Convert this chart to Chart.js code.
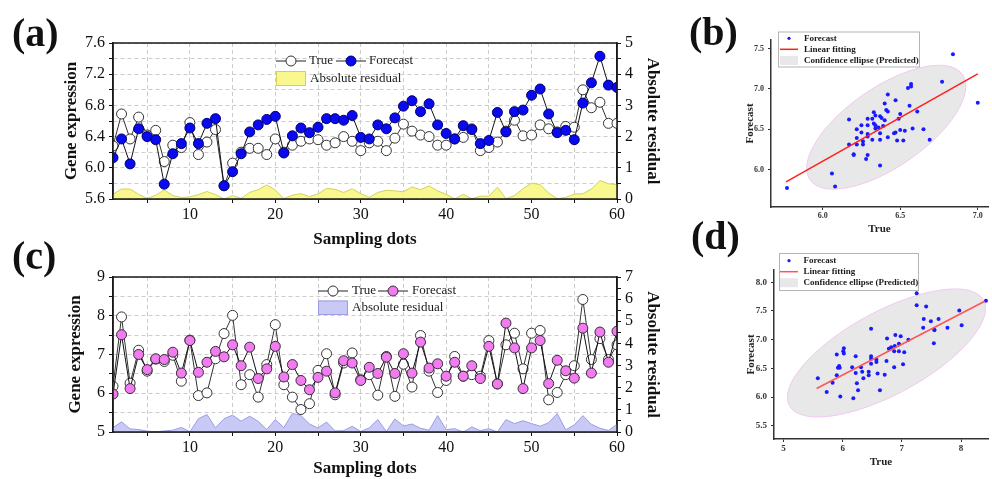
<!DOCTYPE html>
<html><head><meta charset="utf-8">
<script src="https://cdn.jsdelivr.net/npm/chart.js@4.4.1/dist/chart.umd.min.js"></script>
<style>
html,body{margin:0;padding:0;background:#fff;}
#wrap{position:relative;width:992px;height:479px;overflow:hidden;background:#fff;}
#wrap canvas{position:absolute;}
.lbl{position:absolute;font-family:"Liberation Serif","Times New Roman",serif;font-weight:bold;font-size:40px;line-height:40px;color:#111;white-space:nowrap;}
</style></head><body>
<div id="wrap">
<canvas id="ca" width="680" height="250" style="left:0;top:0;width:680px;height:250px"></canvas>
<canvas id="cc" width="680" height="239" style="left:0;top:240px;width:680px;height:239px"></canvas>
<canvas id="cb" width="312" height="240" style="left:680px;top:0;width:312px;height:240px"></canvas>
<canvas id="cd" width="312" height="239" style="left:680px;top:240px;width:312px;height:239px"></canvas>
<div class="lbl" style="left:12px;top:13px">(a)</div>
<div class="lbl" style="left:12px;top:236px">(c)</div>
<div class="lbl" style="left:689px;top:12px">(b)</div>
<div class="lbl" style="left:691px;top:216px">(d)</div>
</div>
<script>
// ---------- data ----------
const samples = Array.from({length: 60}, (_, i) => i + 1);

const trueA = [6.28,6.69,6.37,6.65,6.42,6.48,6.08,6.29,6.26,6.58,6.17,6.33,6.49,5.77,6.06,6.20,6.25,6.25,6.17,6.37,
               6.20,6.29,6.34,6.37,6.36,6.29,6.32,6.40,6.34,6.22,6.32,6.34,6.22,6.38,6.56,6.47,6.42,6.40,6.29,6.29,
               6.37,6.39,6.50,6.22,6.26,6.33,6.47,6.61,6.41,6.42,6.55,6.50,6.46,6.53,6.52,7.00,6.77,6.84,6.57,6.57];
const forecastA = [6.13,6.37,6.05,6.50,6.40,6.36,5.79,6.18,6.31,6.51,6.31,6.57,6.63,5.77,5.95,6.18,6.46,6.55,6.62,6.66,
                   6.19,6.41,6.51,6.45,6.52,6.63,6.63,6.61,6.67,6.39,6.37,6.55,6.50,6.64,6.79,6.86,6.72,6.82,6.55,6.44,
                   6.37,6.54,6.49,6.31,6.35,6.71,6.46,6.72,6.74,6.93,7.01,6.69,6.45,6.48,6.36,6.83,7.09,7.43,7.06,7.03];
const residualA = [0.15,0.32,0.32,0.15,0.02,0.12,0.29,0.11,0.05,0.07,0.14,0.24,0.14,0.00,0.11,0.02,0.21,0.30,0.45,0.29,
                   0.01,0.12,0.17,0.08,0.16,0.34,0.31,0.21,0.33,0.17,0.05,0.21,0.28,0.26,0.23,0.39,0.30,0.42,0.26,0.15,
                   0.00,0.15,0.01,0.09,0.09,0.38,0.01,0.11,0.33,0.51,0.46,0.19,0.01,0.05,0.16,0.17,0.32,0.59,0.49,0.46];

const trueC = [6.18,7.97,6.26,7.11,6.57,6.88,6.82,6.98,6.31,7.37,5.94,6.01,6.89,7.54,8.01,6.22,6.48,5.90,6.74,7.77,
               6.22,5.90,5.58,5.73,6.59,7.02,5.96,6.78,7.04,6.35,6.48,5.95,6.95,5.92,6.75,6.16,7.49,6.57,6.02,6.33,
               6.95,6.44,6.48,6.44,7.36,6.24,7.25,7.55,6.63,7.55,7.62,5.83,6.02,6.48,6.71,8.42,6.87,7.41,6.87,7.25];
const forecastC = [5.98,7.51,6.12,7.00,6.61,6.89,6.87,7.06,6.52,7.36,6.54,6.80,7.08,6.94,7.25,6.71,7.19,6.38,6.63,7.21,
                   6.42,6.74,6.33,6.09,6.41,6.57,6.01,6.84,6.78,6.33,6.67,6.51,6.93,6.51,7.02,6.52,7.32,6.65,6.76,6.44,
                   6.80,6.44,6.71,6.38,7.21,6.24,7.81,7.17,6.12,7.17,7.36,6.25,6.85,6.58,6.39,7.68,6.52,7.58,6.80,7.60];
const residualC = [0.20,0.46,0.14,0.11,0.04,0.01,0.05,0.08,0.21,0.01,0.60,0.79,0.19,0.60,0.76,0.49,0.71,0.48,0.11,0.56,
                   0.20,0.84,0.75,0.36,0.18,0.45,0.05,0.06,0.26,0.02,0.19,0.56,0.02,0.59,0.27,0.36,0.17,0.08,0.74,0.11,
                   0.15,0.00,0.23,0.06,0.15,0.00,0.56,0.38,0.51,0.38,0.26,0.42,0.83,0.10,0.32,0.74,0.35,0.17,0.07,0.35];

// tick labels
const xTickLabels = [10, 20, 30, 40, 50, 60];
const yTickLabelsA = [5.6, 6.0, 6.4, 6.8, 7.2, 7.6];
const y1TickLabelsA = [0, 1, 2, 3, 4, 5];
const yTickLabelsC = [5, 6, 7, 8, 9];
const y1TickLabelsC = [0, 1, 2, 3, 4, 5, 6, 7];
const xTickLabelsB = [6.0, 6.5, 7.0];
const yTickLabelsB = [6.0, 6.5, 7.0, 7.5];
const xTickLabelsD = [5, 6, 7, 8];
const yTickLabelsD = [5.5, 6.0, 6.5, 7.0, 7.5, 8.0];

// linear fitting end points (True, Forecast)
const fitXB = [5.764, 7.0];
const fitYB = [5.846, 7.186];
const fitXD = [5.56, 8.40];
const fitYD = [6.15, 7.67];

// confidence ellipses: centre, major-axis tip, minor-axis tip (True, Forecast)
const ellipseCentreB = [6.41, 6.525];
const ellipseMajorB = [6.902, 7.177];
const ellipseMinorB = [6.268, 6.937];
const ellipseCentreD = [6.74, 6.769];
const ellipseMajorD = [8.38, 7.687];
const ellipseMinorD = [6.416, 7.409];

// ---------- helpers ----------
const SERIF = '"Liberation Serif", "Times New Roman", serif';

function withMinor(labels, div) {
  const t = [];
  labels.forEach((v, i) => {
    t.push({value: v, lab: true});
    if (i < labels.length - 1) {
      for (let k = 1; k < div; k++) t.push({value: v + (labels[i + 1] - v) * k / div, lab: false});
    }
  });
  return t;
}

const framePlugin = {
  id: 'frame',
  afterDatasetsDraw(chart) {
    const a = chart.chartArea, ctx = chart.ctx;
    ctx.save();
    ctx.strokeStyle = '#1a1a1a';
    ctx.lineWidth = 1.5;
    ctx.strokeRect(a.left, a.top, a.right - a.left, a.bottom - a.top);
    ctx.restore();
  }
};

function seriesLegend(L, fcFill, fcBorder, resFill, resBorder) {
  return {
    id: 'seriesLegend',
    afterDraw(chart) {
      const ctx = chart.ctx;
      ctx.save();
      const marker = (x1, x2, cx, y, fill, stroke) => {
        ctx.strokeStyle = '#222'; ctx.lineWidth = 1;
        ctx.beginPath(); ctx.moveTo(x1, y); ctx.lineTo(x2, y); ctx.stroke();
        ctx.beginPath(); ctx.arc(cx, y, 5, 0, Math.PI * 2);
        ctx.fillStyle = fill; ctx.fill();
        ctx.strokeStyle = stroke; ctx.stroke();
      };
      marker(L.trueLine[0], L.trueLine[1], L.trueCx, L.row1, '#ffffff', '#333');
      marker(L.fcLine[0], L.fcLine[1], L.fcCx, L.row1, fcFill, fcBorder);
      ctx.fillStyle = '#1a1a1a';
      ctx.font = '13px ' + SERIF;
      ctx.textBaseline = 'middle';
      ctx.textAlign = 'left';
      ctx.fillText('True', L.trueText, L.row1);
      ctx.fillText('Forecast', L.fcText, L.row1);
      ctx.fillStyle = resFill;
      ctx.fillRect(L.rect[0], L.rect[1], L.rect[2], L.rect[3]);
      ctx.strokeStyle = resBorder; ctx.lineWidth = 1;
      ctx.strokeRect(L.rect[0] + 0.5, L.rect[1] + 0.5, L.rect[2] - 1, L.rect[3] - 1);
      ctx.fillStyle = '#1a1a1a';
      ctx.fillText('Absolute residual', L.resText, L.row2);
      ctx.restore();
    }
  };
}

function seriesChart(id, s) {
  const pts = arr => samples.map((x, i) => ({x: x, y: arr[i]}));
  const tickFont = {family: SERIF, size: 16};
  const titleFont = {family: SERIF, size: 17, weight: 'bold'};
  return new Chart(document.getElementById(id), {
    type: 'line',
    data: {
      datasets: [
        {label: 'Forecast', data: pts(s.fc), yAxisID: 'y', order: 0, borderColor: '#111', borderWidth: 1,
         pointRadius: 5, pointBackgroundColor: s.fcFill, pointBorderColor: s.fcBorder, pointBorderWidth: 1,
         tension: 0, clip: 0, fill: false},
        {label: 'True', data: pts(s.tr), yAxisID: 'y', order: 1, borderColor: '#333', borderWidth: 1,
         pointRadius: 5, pointBackgroundColor: '#ffffff', pointBorderColor: '#333', pointBorderWidth: 1,
         tension: 0, clip: 0, fill: false},
        {label: 'Absolute residual', data: pts(s.res), yAxisID: 'y1', order: 2, fill: 'origin',
         backgroundColor: s.resFill, borderColor: s.resBorder, borderWidth: 1, pointRadius: 0, tension: 0, clip: 0}
      ]
    },
    options: {
      responsive: false, animation: false, devicePixelRatio: 1,
      layout: {padding: {top: s.padTop, left: 0, right: 0, bottom: 0}},
      plugins: {legend: {display: false}, tooltip: {enabled: false}},
      scales: {
        x: {
          type: 'linear', position: 'bottom', min: 1, max: 60,
          afterFit: sc => { sc.height = s.xH; },
          afterBuildTicks: sc => { sc.ticks = [{value: 5, lab: false}].concat(withMinor(xTickLabels, 2)); },
          ticks: {callback: (v, i, t) => (t[i] && t[i].lab) ? String(v) : '', font: tickFont, color: '#111',
                  padding: 2, maxRotation: 0, autoSkip: false},
          grid: {color: '#cccccc', lineWidth: 1, tickColor: '#111', tickLength: 4, tickWidth: 1},
          border: {color: '#1a1a1a', width: 1.5, dash: [4, 3]},
          title: {display: true, text: 'Sampling dots', font: titleFont, color: '#111', padding: {top: 0, bottom: s.xTitlePad}}
        },
        y: {
          type: 'linear', position: 'left', min: s.yMin, max: s.yMax,
          afterFit: sc => { sc.width = 113; },
          afterBuildTicks: sc => { sc.ticks = withMinor(s.yLabels, s.yDiv); },
          ticks: {callback: (v, i, t) => (t[i] && t[i].lab) ? s.yFmt(v) : '', font: tickFont, color: '#111',
                  padding: 4, autoSkip: false},
          grid: {color: '#cccccc', lineWidth: 1, tickColor: '#111', tickLength: 4, tickWidth: 1},
          border: {color: '#1a1a1a', width: 1.5, dash: [4, 3]},
          title: {display: true, text: 'Gene expression', font: titleFont, color: '#111', padding: {top: s.yTitlePad, bottom: 0}}
        },
        y1: {
          type: 'linear', position: 'right', min: 0, max: s.y1Max,
          afterFit: sc => { sc.width = 63; },
          afterBuildTicks: sc => { sc.ticks = withMinor(s.y1Labels, 2); },
          ticks: {callback: (v, i, t) => (t[i] && t[i].lab) ? String(v) : '', font: tickFont, color: '#111',
                  padding: 4, autoSkip: false},
          grid: {drawOnChartArea: false, tickColor: '#111', tickLength: 4, tickWidth: 1},
          border: {color: '#1a1a1a', width: 1.5},
          title: {display: true, text: 'Absolute residual', font: titleFont, color: '#111', padding: {top: 17.8, bottom: 0}}
        }
      }
    },
    plugins: [framePlugin, seriesLegend(s.legend, s.fcFill, s.fcBorder, s.resFill, s.resBorder)]
  });
}

seriesChart('ca', {
  tr: trueA, fc: forecastA, res: residualA,
  fcFill: '#0a0af0', fcBorder: '#00006e', resFill: '#f8f88e', resBorder: '#d2d25a',
  padTop: 43, xH: 51, xTitlePad: 0, yTitlePad: 61.8,
  yMin: 5.6, yMax: 7.6, yLabels: yTickLabelsA, yDiv: 2, yFmt: v => v.toFixed(1),
  y1Max: 5, y1Labels: y1TickLabelsA,
  legend: {row1: 61, row2: 78.5, trueLine: [276, 306], trueCx: 291, trueText: 309,
           fcLine: [336, 366], fcCx: 351, fcText: 369, rect: [276, 71, 30, 15], resText: 310}
});

seriesChart('cc', {
  tr: trueC, fc: forecastC, res: residualC,
  fcFill: '#f07cf0', fcBorder: '#3a2a3a', resFill: '#c9c9f6', resBorder: '#9d9de6',
  padTop: 37, xH: 47, xTitlePad: 0.5, yTitlePad: 65.5,
  yMin: 5, yMax: 9, yLabels: yTickLabelsC, yDiv: 2, yFmt: v => String(v),
  y1Max: 7, y1Labels: y1TickLabelsC,
  legend: {row1: 51, row2: 67.5, trueLine: [318, 348], trueCx: 333, trueText: 352,
           fcLine: [378, 408], fcCx: 393, fcText: 412, rect: [318, 60.5, 30, 14.5], resText: 352}
});

// ---------- scatter panels ----------
function ellipsePlugin(c, m, n) {
  return {
    id: 'confEllipse',
    beforeDatasetsDraw(chart) {
      const xs = chart.scales.x, ys = chart.scales.y, ctx = chart.ctx;
      const cx = xs.getPixelForValue(c[0]), cy = ys.getPixelForValue(c[1]);
      const ax = xs.getPixelForValue(m[0]) - cx, ay = ys.getPixelForValue(m[1]) - cy;
      const bx = xs.getPixelForValue(n[0]) - cx, by = ys.getPixelForValue(n[1]) - cy;
      ctx.save();
      ctx.beginPath();
      ctx.ellipse(cx, cy, Math.hypot(ax, ay), Math.hypot(bx, by), Math.atan2(ay, ax), 0, Math.PI * 2);
      ctx.fillStyle = '#e8e8e8';
      ctx.fill();
      ctx.strokeStyle = '#f2c8f2';
      ctx.lineWidth = 1;
      ctx.stroke();
      ctx.restore();
    }
  };
}

function scatterLegend(L, fitColor) {
  return {
    id: 'scatterLegend',
    afterDraw(chart) {
      const ctx = chart.ctx;
      ctx.save();
      ctx.fillStyle = '#ffffff';
      ctx.fillRect(L.box[0], L.box[1], L.box[2], L.box[3]);
      ctx.strokeStyle = '#b4b4b4'; ctx.lineWidth = 1;
      ctx.strokeRect(L.box[0] + 0.5, L.box[1] + 0.5, L.box[2], L.box[3]);
      ctx.fillStyle = '#1a1aff';
      ctx.beginPath(); ctx.arc(L.dotX, L.rows[0], 1.6, 0, Math.PI * 2); ctx.fill();
      ctx.strokeStyle = fitColor; ctx.lineWidth = 1.5;
      ctx.beginPath(); ctx.moveTo(L.sym[0], L.rows[1]); ctx.lineTo(L.sym[1], L.rows[1]); ctx.stroke();
      ctx.fillStyle = '#e8e8e8';
      ctx.fillRect(L.sym[0], L.rows[2] - 4.5, L.sym[1] - L.sym[0], 9);
      ctx.fillStyle = '#1a1a1a';
      ctx.font = 'bold 9px ' + SERIF;
      ctx.textBaseline = 'middle';
      ctx.fillText('Forecast', L.text, L.rows[0]);
      ctx.fillText('Linear fitting', L.text, L.rows[1]);
      ctx.fillText('Confidence ellipse (Predicted)', L.text, L.rows[2]);
      ctx.restore();
    }
  };
}

function scatterChart(id, s) {
  const tickFont = {family: SERIF, size: s.tickSize, weight: 'bold'};
  const titleFont = {family: SERIF, size: 11, weight: 'bold'};
  return new Chart(document.getElementById(id), {
    type: 'scatter',
    data: {
      datasets: [
        {label: 'Linear fitting', type: 'line', data: s.fitX.map((x, i) => ({x: x, y: s.fitY[i]})),
         borderColor: s.fitColor, borderWidth: 1.5, pointRadius: 0, order: 0, fill: false, tension: 0},
        {label: 'Forecast', data: s.tx.map((x, i) => ({x: x, y: s.fy[i]})), pointRadius: 2,
         pointBackgroundColor: '#1a1aff', pointBorderWidth: 0, order: 1}
      ]
    },
    options: {
      responsive: false, animation: false, devicePixelRatio: 1,
      layout: {padding: {top: s.padTop, left: 0, right: 0, bottom: 0}},
      plugins: {legend: {display: false}, tooltip: {enabled: false}},
      scales: {
        x: {
          type: 'linear', min: s.xMin, max: s.xMax,
          afterFit: sc => { sc.height = s.xH; },
          afterBuildTicks: sc => { sc.ticks = s.xLabels.map(v => ({value: v})); },
          ticks: {callback: v => s.xFmt(v), font: tickFont, color: '#333', padding: 1, maxRotation: 0, autoSkip: false},
          grid: {drawOnChartArea: false, tickColor: '#333', tickLength: 3, tickWidth: 1},
          border: {color: '#333', width: 1.5},
          title: {display: true, text: 'True', font: titleFont, color: '#222', padding: {top: 0, bottom: s.xTitlePad}}
        },
        y: {
          type: 'linear', min: s.yMin, max: s.yMax,
          afterFit: sc => { sc.width = s.yW; },
          afterBuildTicks: sc => { sc.ticks = s.yLabels.map(v => ({value: v})); },
          ticks: {callback: v => v.toFixed(1), font: tickFont, color: '#333', padding: 4, autoSkip: false},
          grid: {drawOnChartArea: false, tickColor: '#333', tickLength: 3, tickWidth: 1},
          border: {color: '#333', width: 1.5},
          title: {display: true, text: 'Forecast', font: titleFont, color: '#222', padding: {top: s.yTitlePad, bottom: 0}}
        }
      }
    },
    plugins: [ellipsePlugin(s.ec, s.em, s.en), scatterLegend(s.legend, s.fitColor)]
  });
}

scatterChart('cb', {
  tx: trueA, fy: forecastA, fitX: fitXB, fitY: fitYB, fitColor: '#ff1e1e',
  ec: ellipseCentreB, em: ellipseMajorB, en: ellipseMinorB,
  padTop: 40, xH: 33, yW: 91, xTitlePad: 4.4, yTitlePad: 63.4, tickSize: 8,
  xMin: 5.667, xMax: 7.066, yMin: 5.535, yMax: 7.607,
  xLabels: xTickLabelsB, yLabels: yTickLabelsB, xFmt: v => v.toFixed(1),
  legend: {box: [98, 31.5, 141, 35], dotX: 109, sym: [100, 118], text: 124, rows: [38.3, 49.3, 60.5]}
});

scatterChart('cd', {
  tx: trueC, fy: forecastC, fitX: fitXD, fitY: fitYD, fitColor: '#ff5555',
  ec: ellipseCentreD, em: ellipseMajorD, en: ellipseMinorD,
  padTop: 30, xH: 40, yW: 94, xTitlePad: 10.4, yTitlePad: 65, tickSize: 9,
  xMin: 4.84, xMax: 8.455, yMin: 5.27, yMax: 8.214,
  xLabels: xTickLabelsD, yLabels: yTickLabelsD, xFmt: v => String(v),
  legend: {box: [99, 13, 139, 37], dotX: 109, sym: [100, 118], text: 123.5, rows: [20.7, 31.7, 42.7]}
});
</script>
</body></html>
